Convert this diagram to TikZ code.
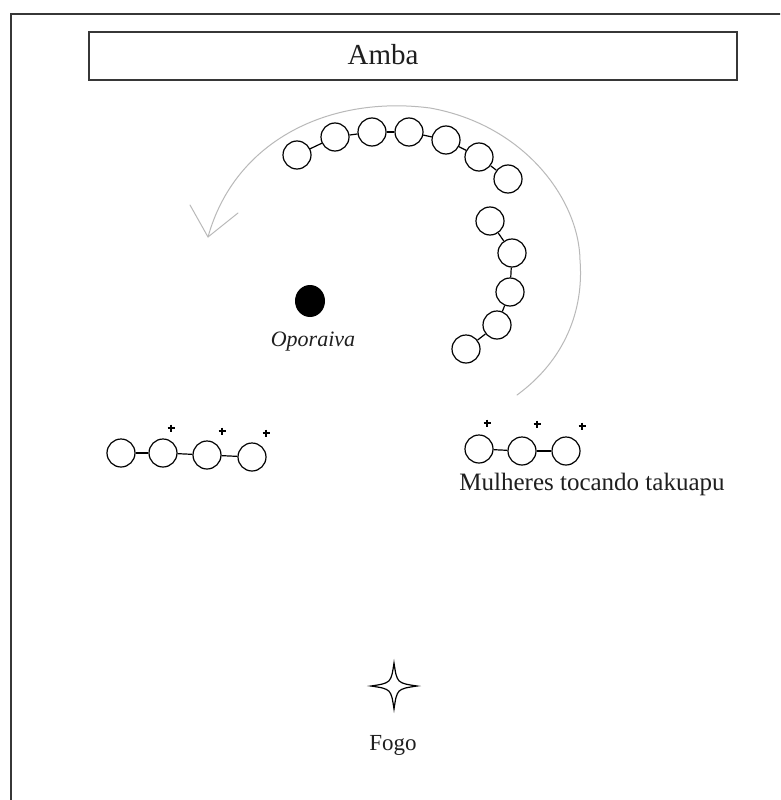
\documentclass[tikz,border=0pt]{standalone}
\usepackage{fontspec}
\setmainfont{Liberation Serif}
\usetikzlibrary{shapes.geometric}
\definecolor{framegray}{RGB}{55,55,55}
\definecolor{pathgray}{RGB}{185,185,185}
\begin{document}
\begin{tikzpicture}[x=1pt,y=-1pt,
  dancer/.style={circle,draw=black,line width=1.2pt,minimum size=28pt,inner sep=0pt},
  link/.style={draw=black,line width=1.2pt},
  sparkmark/.style={draw=black,line width=1.3pt},
  lbl/.style={inner sep=0pt,text=black!88},
  walkway/.style={draw=pathgray,line width=1pt,line join=round,line cap=round}]
\useasboundingbox (0,0) rectangle (780,800);
\clip (0,0) rectangle (780,800);
\fill[white] (0,0) rectangle (780,800);

% outer frame (runs off the page on the right and bottom)
\draw[framegray,line width=2pt] (11,14) rectangle (800,820);

% house label
\node[draw=framegray,line width=2pt,minimum width=648pt,minimum height=48pt,inner sep=0pt] (ambabox) at (413,56) {};
\node[lbl,font=\fontsize{29}{31}\selectfont] (amba) at (383,55) {Amba};

% direction of the circling dance
\coordinate (walkstart) at (517,395);
\coordinate (tip) at (208,237);
\draw[walkway] (walkstart) .. controls (565,360) and (584,310) .. (580,260)
  .. controls (579,200) and (525,125) .. (430,108)
  .. controls (330,95) and (235,140) .. (tip);
\draw[walkway] (190,205) -- (tip) -- (238,213);

% dancers along the top of the circle
\node[dancer] (t1) at (297,155) {};
\node[dancer] (t2) at (335,137) {};
\node[dancer] (t3) at (372,132) {};
\node[dancer] (t4) at (409,132) {};
\node[dancer] (t5) at (446,140) {};
\node[dancer] (t6) at (479,157) {};
\node[dancer] (t7) at (508,179) {};
\foreach \a/\b in {t1/t2,t2/t3,t3/t4,t4/t5,t5/t6,t6/t7} \draw[link] (\a) -- (\b);

% dancers along the right side
\node[dancer] (r1) at (490,221) {};
\node[dancer] (r2) at (512,253) {};
\node[dancer] (r3) at (510,292) {};
\node[dancer] (r4) at (497,325) {};
\node[dancer] (r5) at (466,349) {};
\foreach \a/\b in {r1/r2,r2/r3,r3/r4,r4/r5} \draw[link] (\a) -- (\b);

% leader
\node[ellipse,fill=black,minimum width=30pt,minimum height=32pt,inner sep=0pt] (leader) at (310,301) {};
\node[lbl,font=\fontsize{22}{24}\selectfont\itshape] (oporaiva) at (313,342) {Oporaiva};

% women with takuapu, left group
\node[dancer] (a1) at (121,453) {};
\node[dancer] (a2) at (163,453) {};
\node[dancer] (a3) at (207,455) {};
\node[dancer] (a4) at (252,457) {};
\foreach \a/\b in {a1/a2,a2/a3,a3/a4} \draw[link] (\a) -- (\b);

% women with takuapu, right group
\node[dancer] (b1) at (479,449) {};
\node[dancer] (b2) at (522,451) {};
\node[dancer] (b3) at (566,451) {};
\foreach \a/\b in {b1/b2,b2/b3} \draw[link] (\a) -- (\b);
\node[lbl,font=\fontsize{25}{27}\selectfont] (takuapu) at (592,484) {Mulheres tocando takuapu};

% takuapu strikes
\foreach \p in {(171,428),(222,431),(266,433),(487,423),(537,424),(582,426)}
  \draw[sparkmark] \p ++(-3.5,0) -- ++(7,0) ++(-3.5,-3.5) -- ++(0,7);

% fire
\coordinate (fire) at (394,686);
\begin{scope}[shift={(fire)}]
  \draw[line width=1.2pt,line join=miter] (0,-23) .. controls (3,-3) .. (23,0)
    .. controls (3,3) .. (0,23) .. controls (-3,3) .. (-23,0)
    .. controls (-3,-3) .. cycle;
\end{scope}
\node[lbl,font=\fontsize{23}{25}\selectfont] (fogo) at (393,745) {Fogo};
\end{tikzpicture}
\end{document}
